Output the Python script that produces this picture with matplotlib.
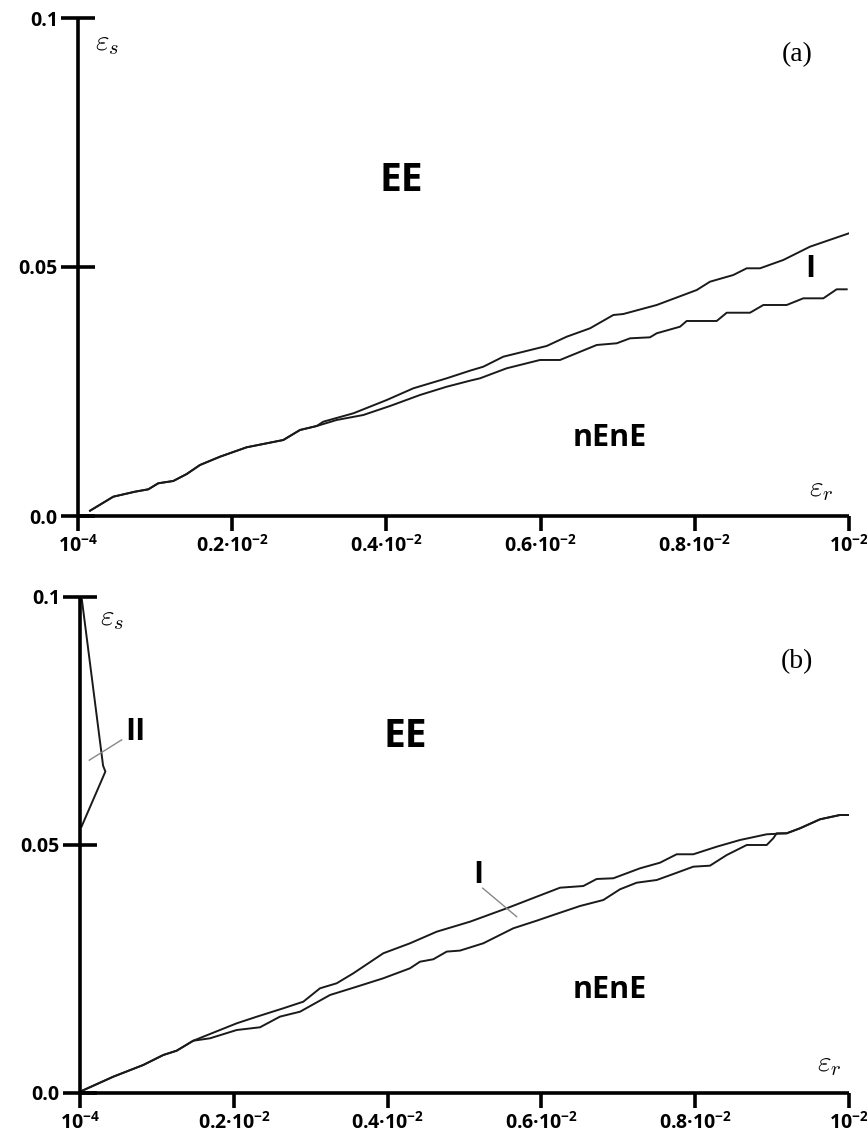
import matplotlib
matplotlib.use("Agg")
import matplotlib.pyplot as plt
from matplotlib.ticker import FixedLocator

plt.rcParams['font.family'] = ['Open Sans', 'DejaVu Sans']
plt.rcParams['mathtext.fontset'] = 'custom'
plt.rcParams['mathtext.rm'] = 'Open Sans:bold'
plt.rcParams['mathtext.it'] = 'Open Sans:bold'
plt.rcParams['mathtext.bf'] = 'Open Sans:bold'

# x in units of 10^-2, y = eps_s
xticks = [0.0, 0.2, 0.4, 0.6, 0.8, 1.0]
xticklabels = ['$10^{-4}$', '$0.2·10^{-2}$', '$0.4·10^{-2}$',
               '$0.6·10^{-2}$', '$0.8·10^{-2}$', '$10^{-2}$']
yticks = [0.0, 0.05, 0.1]
yticklabels = ['0.0', '0.05', '0.1']

# panel (a): common start, then two branches of curve I
a_common_x = [0.0156, 0.0458, 0.0739, 0.0912, 0.1041, 0.1236, 0.1410, 0.1582,
              0.1842, 0.2188, 0.2663, 0.2879, 0.3096]
a_common_y = [0.00106, 0.00388, 0.00488, 0.00536, 0.00657, 0.00703, 0.00843,
              0.01024, 0.01191, 0.01380, 0.01526, 0.01727, 0.01807]
a_up_x = [0.3182, 0.3571, 0.4004, 0.4349, 0.4782, 0.5084, 0.5257, 0.5516, 0.6079,
          0.6338, 0.6641, 0.6943, 0.7073, 0.7506, 0.8025, 0.8197, 0.8499, 0.8673,
          0.8846, 0.9148, 0.9494, 1.0]
a_up_y = [0.01894, 0.02062, 0.02329, 0.02564, 0.02765, 0.02918, 0.02998, 0.03199,
          0.03414, 0.03600, 0.03769, 0.04036, 0.04056, 0.04237, 0.04538, 0.04705,
          0.04839, 0.04974, 0.04974, 0.05141, 0.05408, 0.05677]
a_lo_x = [0.3355, 0.3700, 0.4047, 0.4436, 0.4782, 0.5084, 0.5214, 0.5560, 0.5992,
          0.6252, 0.6728, 0.6987, 0.7160, 0.7419, 0.7506, 0.7808, 0.7895, 0.8284,
          0.8414, 0.8716, 0.8889, 0.9192, 0.9407, 0.9667, 0.9840, 0.9970]
a_lo_y = [0.01928, 0.02028, 0.02209, 0.02430, 0.02596, 0.02717, 0.02765, 0.02966,
          0.03133, 0.03133, 0.03434, 0.03468, 0.03568, 0.03588, 0.03669, 0.03801,
          0.03916, 0.03916, 0.04082, 0.04082, 0.04237, 0.04237, 0.04371, 0.04371,
          0.04552, 0.04552]

# panel (b)
b_common_x = [0.002, 0.0433, 0.0823, 0.1083, 0.1257, 0.1473]
b_common_y = [0.0004, 0.00329, 0.00565, 0.00766, 0.00853, 0.01054]
b_up_x = [0.1691, 0.2038, 0.2298, 0.2644, 0.2904, 0.3121, 0.3338, 0.3554, 0.3944,
          0.4291, 0.4638, 0.5072, 0.5549, 0.5939, 0.6242, 0.6545, 0.6719, 0.6935,
          0.7282, 0.7542, 0.7759, 0.7975, 0.8280, 0.8583, 0.8930, 0.9190, 0.9363,
          0.9623, 0.9883, 0.9991]
b_up_y = [0.01190, 0.01405, 0.01538, 0.01708, 0.01841, 0.02111, 0.02212, 0.02413,
          0.02817, 0.03018, 0.03252, 0.03454, 0.03724, 0.03958, 0.04139, 0.04173,
          0.04315, 0.04329, 0.04530, 0.04643, 0.04813, 0.04813, 0.04966, 0.05101,
          0.05216, 0.05236, 0.05337, 0.05518, 0.05605, 0.05605]
b_lo_x = [0.1691, 0.2038, 0.2341, 0.2601, 0.2861, 0.3251, 0.3598, 0.3944, 0.4291,
          0.4421, 0.4594, 0.4769, 0.4941, 0.5244, 0.5635, 0.5939, 0.6155, 0.6502,
          0.6805, 0.7022, 0.7239, 0.7499, 0.7715, 0.7975, 0.8192, 0.8410, 0.8670,
          0.8930, 0.9015, 0.9060, 0.9190]
b_lo_y = [0.01103, 0.01270, 0.01325, 0.01540, 0.01639, 0.01976, 0.02143, 0.02313,
          0.02514, 0.02647, 0.02696, 0.02851, 0.02871, 0.03018, 0.03321, 0.03474,
          0.03589, 0.03770, 0.03891, 0.04107, 0.04240, 0.04294, 0.04415, 0.04563,
          0.04583, 0.04798, 0.05000, 0.05000, 0.05135, 0.05236, 0.05236]
# curve II near the eps_s axis
b_ii_x = [0.002, 0.030, 0.033, 0.002]
b_ii_y = [0.1, 0.0660, 0.0648, 0.0537]

W, H = 867, 1140
fig = plt.figure(figsize=(W / 100, H / 100), dpi=100)


def make_axes(px_left, px_right, px_zero, px_top):
    ax = fig.add_axes([px_left / W, (H - px_zero) / H,
                       (px_right - px_left) / W, (px_zero - px_top) / H])
    ax.set_xlim(0, 1)
    ax.set_ylim(0, 0.1)
    for s in ['top', 'right']:
        ax.spines[s].set_visible(False)
    for s in ['left', 'bottom']:
        ax.spines[s].set_linewidth(2.6)
        ax.spines[s].set_capstyle('butt')
    ax.set_xticks(xticks)
    ax.set_xticklabels(xticklabels)
    ax.set_yticks(yticks)
    ax.set_yticklabels(yticklabels, fontweight='bold')
    ax.xaxis.set_minor_locator(FixedLocator([1.0]))
    ax.tick_params(axis='x', which='major', direction='out', length=11, width=2.6,
                   pad=2, labelsize=14)
    ax.tick_params(axis='x', which='minor', direction='inout', length=24, width=2.6)
    ax.tick_params(axis='y', which='major', direction='inout', length=25, width=2.6,
                   pad=2, labelsize=14)
    ax.patch.set_alpha(0)
    return ax


curve_kw = dict(color='#1a1a1a', lw=1.4)
big = dict(fontsize=28, fontweight='bold', ha='center', va='center')
mid = dict(fontsize=22, fontweight='bold', ha='center', va='center')
eps = dict(math_fontfamily='cm', fontsize=21, ha='left', va='center')
tag = dict(family='Liberation Serif', fontsize=20, ha='center', va='center')

# (a)
ax = make_axes(78, 849, 516, 18)
ax.plot(a_common_x + a_up_x, a_common_y + a_up_y, **curve_kw)
ax.plot(a_common_x + a_lo_x, a_common_y + a_lo_y, **curve_kw)
ax.text(0.419, 0.0673, 'EE', **big)
ax.text(0.690, 0.0157, 'nEnE', **mid)
ax.text(0.950, 0.0496, 'I', **mid)
ax.text(0.022, 0.0950, r'$\varepsilon_s$', **eps)
ax.text(0.948, 0.0055, r'$\varepsilon_r$', **eps)
ax.text(0.9326, 0.0926, '(a)', **tag)

# (b)
ax = make_axes(80, 849, 1093, 597)
ax.plot(b_common_x + b_up_x, b_common_y + b_up_y, **curve_kw)
ax.plot(b_common_x + b_lo_x + b_up_x[-5:], b_common_y + b_lo_y + b_up_y[-5:], **curve_kw)
ax.plot(b_ii_x, b_ii_y, **curve_kw)
ax.plot([0.5237, 0.5678], [0.0413, 0.03555], color='#888888', lw=1.0)
ax.plot([0.0542, 0.0121], [0.0712, 0.0671], color='#888888', lw=1.0)
ax.text(0.4226, 0.0718, 'EE', **big)
ax.text(0.689, 0.0208, 'nEnE', **mid)
ax.text(0.518, 0.0439, 'I', **mid)
ax.text(0.0715, 0.0728, 'II', **mid)
ax.text(0.026, 0.0958, r'$\varepsilon_s$', **eps)
ax.text(0.958, 0.0060, r'$\varepsilon_r$', **eps)
ax.text(0.932, 0.0869, '(b)', **tag)

fig.savefig('out.png', dpi=100)
